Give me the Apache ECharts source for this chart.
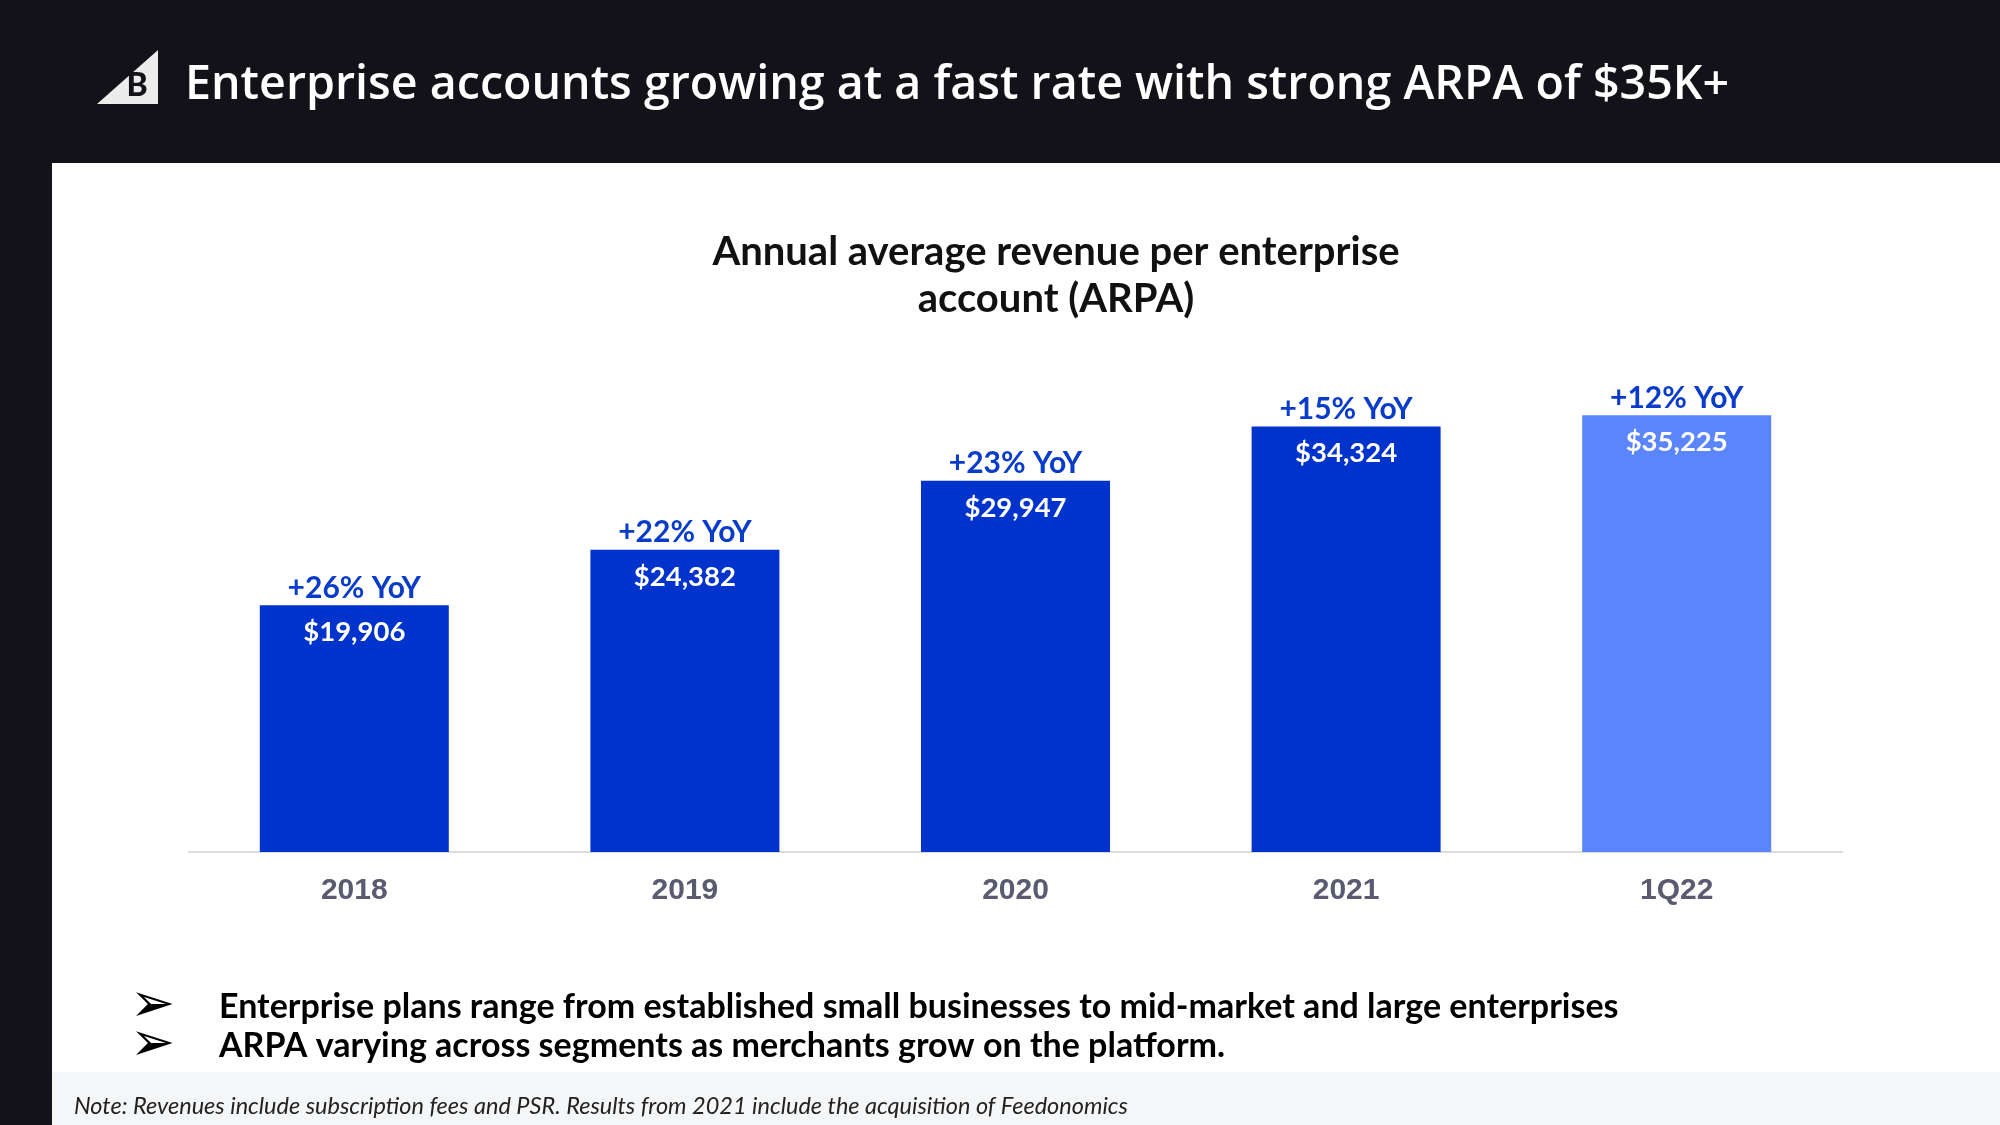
<!DOCTYPE html>
<html>
<head>
<meta charset="utf-8">
<script src="https://cdn.jsdelivr.net/npm/echarts@6/dist/echarts.min.js"></script>
<style>
html,body{margin:0;padding:0;background:#121218;}
#main{width:2000px;height:1125px;}
</style>
</head>
<body>
<div id="main"></div>
<script>
const categories = ['2018', '2019', '2020', '2021', '1Q22'];
const arpaValues = [19906, 24382, 29947, 34324, 35225];
const yoyLabels = ['+26% YoY', '+22% YoY', '+23% YoY', '+15% YoY', '+12% YoY'];
const headline = 'Enterprise accounts growing at a fast rate with strong ARPA of $35K+';
const chartTitle = 'Annual average revenue per enterprise\naccount (ARPA)';
const bullets = [
  'Enterprise plans range from established small businesses to mid-market and large enterprises',
  'ARPA varying across segments as merchants grow on the platform.'
];
const note = 'Note: Revenues include subscription fees and PSR. Results from 2021 include the acquisition of Feedonomics';

const DARK = '#0033cc';
const LIGHT = '#5b86fb';

const chart = echarts.init(document.getElementById('main'), null, {renderer: 'canvas'});

function fmtMoney(v) {
  return '$' + v.toLocaleString('en-US');
}

const graphics = [
  {type: 'rect', z: -10, silent: true, shape: {x: 52, y: 163, width: 1948, height: 910}, style: {fill: '#ffffff'}},
  {type: 'rect', z: -10, silent: true, shape: {x: 52, y: 1072, width: 1948, height: 53}, style: {fill: '#f5f6f8'}},
  {type: 'polygon', z: 5, silent: true, shape: {points: [[97, 104], [158, 104], [158, 50]]}, style: {fill: '#ececec'}},
  {type: 'text', z: 6, silent: true, style: {x: 137, y: 86, text: 'B', fill: '#121218', font: '900 32px Lato', textAlign: 'center', textVerticalAlign: 'middle'}},
  {type: 'text', z: 6, silent: true, style: {x: 185, y: 86, text: headline, fill: '#ffffff', font: '600 46.6px "Open Sans"', textVerticalAlign: 'middle'}},
  {type: 'text', z: 6, silent: true, style: {x: 74, y: 1106, text: note, fill: '#222222', font: 'italic 23.5px Lato', textVerticalAlign: 'middle'}}
];
bullets.forEach((b, i) => {
  const y = 1007 + i * 39;
  graphics.push({type: 'text', z: 6, silent: true, style: {x: 130, y: y, text: '\u27A2', fill: '#000000', font: 'bold 54px "DejaVu Sans"', textVerticalAlign: 'middle'}});
  graphics.push({type: 'text', z: 6, silent: true, style: {x: 219, y: y, text: b, fill: '#000000', font: 'bold 34px Lato', textVerticalAlign: 'middle'}});
});

const option = {
  backgroundColor: '#121218',
  animation: false,
  title: {
    text: chartTitle,
    left: 1051,
    top: 224,
    textAlign: 'center',
    textStyle: {fontFamily: 'Lato', fontWeight: 'bold', fontSize: 40, lineHeight: 47, color: '#111111'}
  },
  graphic: graphics,
  grid: {left: 189, right: 158, top: 356, bottom: 273},
  xAxis: {
    type: 'category',
    data: categories,
    axisLine: {show: true, lineStyle: {color: '#dcdcdc', width: 2}},
    axisTick: {show: false},
    axisLabel: {margin: 24, fontFamily: 'Liberation Sans', fontWeight: 'bold', fontSize: 30, color: '#5a5a70'}
  },
  yAxis: {type: 'value', min: 0, max: 40000, show: false, splitLine: {show: false}},
  series: [
    {
      type: 'bar',
      data: arpaValues,
      barWidth: 189,
      itemStyle: {color: (p) => p.dataIndex === categories.length - 1 ? LIGHT : DARK},
      label: {
        show: true,
        position: 'insideTop',
        distance: 13,
        formatter: (p) => fmtMoney(p.value),
        fontFamily: 'Lato',
        fontWeight: 'bold',
        fontSize: 27.5,
        color: '#ffffff'
      }
    },
    {
      type: 'bar',
      data: arpaValues,
      barWidth: 189,
      barGap: '-100%',
      silent: true,
      itemStyle: {color: 'rgba(0,0,0,0)'},
      label: {
        show: true,
        position: 'top',
        distance: 2,
        formatter: (p) => yoyLabels[p.dataIndex],
        fontFamily: 'Lato',
        fontWeight: 'bold',
        fontSize: 30,
        color: '#0a3ccc'
      }
    }
  ]
};
chart.setOption(option);
</script>
</body>
</html>
